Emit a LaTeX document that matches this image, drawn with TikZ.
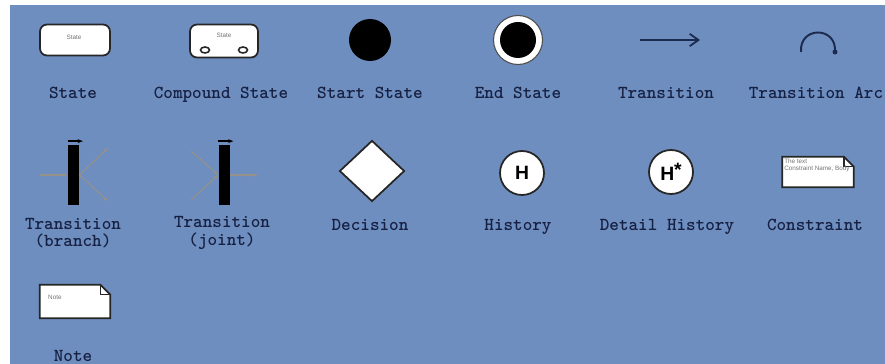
\documentclass[tikz,border=0pt]{standalone}
\usepackage{fontspec}
\newfontfamily\iconfont{Liberation Sans}
\usetikzlibrary{arrows.meta,positioning,shapes.geometric}
\definecolor{panelblue}{RGB}{110,142,191}
\definecolor{labelink}{RGB}{22,32,66}
\definecolor{arrowink}{RGB}{28,42,78}
\definecolor{faintink}{RGB}{150,146,138}

\begin{document}
\begin{tikzpicture}[x=0.02cm,y=-0.02cm,
  lbl/.style={font=\ttfamily\bfseries\fontsize{10.4}{9.8}\selectfont,text=labelink,align=center},
  icon/.style={draw=black!85,fill=white,line width=1pt},
  tinytext/.style={font=\iconfont\fontsize{3.6}{4}\selectfont,text=black!55},
  bar/.style={fill=black,minimum width=0.22cm,minimum height=1.2cm,inner sep=0pt},
  faint/.style={draw=faintink,line width=.6pt,-{Stealth[length=3pt]}},
  hist/.style={icon,circle,minimum size=0.88cm,inner sep=0pt,font=\iconfont\bfseries\fontsize{11}{12}\selectfont}]
\useasboundingbox (0,0) rectangle (885,364);
\fill[white] (0,0) rectangle (885,364);
\fill[panelblue] (10,5) rectangle (885,364);

% row 1
\node[icon,rounded corners=4pt,minimum width=1.4cm,minimum height=0.62cm] (state) at (75,40) {};
\node[tinytext] at (74,37) {State};
\node[icon,rounded corners=4pt,minimum width=1.36cm,minimum height=0.66cm] (cstate) at (224,41) {};
\node[tinytext] at (224,35) {State};
\draw[black!85,fill=white,line width=.9pt] (205,50) ellipse (4.5 and 3);
\draw[black!85,fill=white,line width=.9pt] (243,50) ellipse (4.5 and 3);
\node[circle,fill=black,minimum size=0.84cm,inner sep=0pt] (start) at (370,40) {};
\node[circle,draw=black!70,fill=white,line width=.6pt,minimum size=0.98cm,inner sep=0pt] (end) at (518,40) {};
\fill[black] (end.center) circle (18);
\coordinate (t0) at (640,40);
\coordinate (t1) at (700,40);
\draw[arrowink,line width=1pt,-{Straight Barb[length=5pt,width=7pt]}] (t0) -- (t1);
\coordinate (a0) at (801,52);
\coordinate (a1) at (835,52);
\draw[arrowink,line width=1.1pt] (a0) .. controls (799,26) and (837,26) .. (a1);
\fill[arrowink] (a1) circle (2.5);

\node[lbl,anchor=base] at (73,99) {State};
\node[lbl,anchor=base] at (221,99) {Compound State};
\node[lbl,anchor=base] at (370,99) {Start State};
\node[lbl,anchor=base] at (518,99) {End State};
\node[lbl,anchor=base] at (666,99) {Transition};
\node[lbl,anchor=base] at (816,99) {Transition Arc};

% row 2
\node[bar] (branch) at (73.5,175) {};
\coordinate (b0) at (40,175);
\coordinate (b1) at (108,148);
\coordinate (b2) at (108,201);
\draw[faint] (b0) -- (branch.west);
\draw[faint] (branch.east) -- (b1);
\draw[faint] (branch.east) -- (b2);
\draw[black,line width=1.3pt,-{Stealth[length=3pt]}] ([yshift=0.07cm]branch.north west) -- ([yshift=0.07cm,xshift=2pt]branch.north east);

\node[bar] (joint) at (224,175) {};
\coordinate (j0) at (191,151);
\coordinate (j1) at (191,200);
\coordinate (j2) at (258,175);
\draw[faint] (j0) -- (joint.west);
\draw[faint] (j1) -- (joint.west);
\draw[faint] (joint.east) -- (j2);
\draw[black,line width=1.3pt,-{Stealth[length=3pt]}] ([yshift=0.07cm]joint.north west) -- ([yshift=0.07cm,xshift=2pt]joint.north east);

\node[icon,diamond,aspect=1.05,minimum width=1.3cm,minimum height=1.22cm,inner sep=0pt] (decision) at (372,171) {};
\node[hist] (history) at (522,173) {H};
\node[hist] (dhistory) at (671,172) {H\raisebox{.35ex}{*}};

\node[minimum width=1.42cm,minimum height=0.6cm,inner sep=0pt] (constraint) at (818,172) {};
\draw[icon] (constraint.north west) -- ([xshift=-0.2cm]constraint.north east) -- ([yshift=-0.2cm]constraint.north east) -- (constraint.south east) -- (constraint.south west) -- cycle;
\draw[black!85,line width=.8pt] ([xshift=-0.2cm]constraint.north east) -- ([xshift=-0.2cm,yshift=-0.2cm]constraint.north east) -- ([yshift=-0.2cm]constraint.north east);
\node[tinytext,anchor=north west,align=left,inner sep=1pt] at (constraint.north west) {The text\\Constraint Name, Body};

\node[lbl] at (73,233) {Transition\\(branch)};
\node[lbl] at (222,233) {Transition\\(joint)};
\node[lbl,anchor=base] at (370,231) {Decision};
\node[lbl,anchor=base] at (518,231) {History};
\node[lbl,anchor=base] at (667,231) {Detail History};
\node[lbl,anchor=base] at (815,231) {Constraint};

% row 3
\node[minimum width=1.4cm,minimum height=0.66cm,inner sep=0pt] (note) at (75,301.5) {};
\draw[icon] (note.north west) -- ([xshift=-0.2cm]note.north east) -- ([yshift=-0.2cm]note.north east) -- (note.south east) -- (note.south west) -- cycle;
\draw[black!85,line width=.8pt] ([xshift=-0.2cm]note.north east) -- ([xshift=-0.2cm,yshift=-0.2cm]note.north east) -- ([yshift=-0.2cm]note.north east);
\node[tinytext,anchor=west] at (42,297) {Note};
\node[lbl,anchor=base] at (73,361) {Note};
\end{tikzpicture}
\end{document}
